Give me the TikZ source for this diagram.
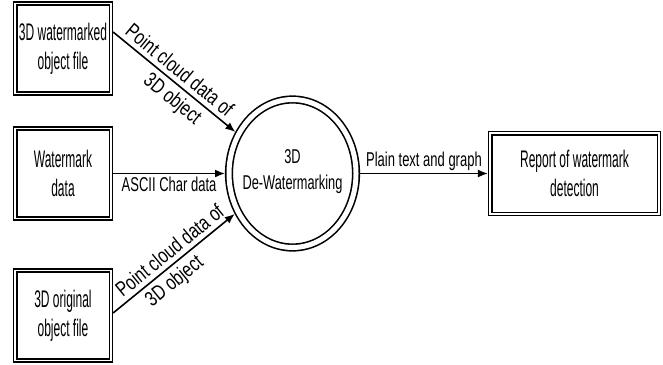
\documentclass[tikz,border=0pt]{standalone}
\usepackage{fontspec}
\setmainfont{Liberation Sans}
\newfontfamily\boxfont[FakeStretch=0.5]{Liberation Sans}
\newfontfamily\lblfont[FakeStretch=0.65]{Liberation Sans}
\newfontfamily\slfont[FakeStretch=0.76]{Liberation Sans}
\newfontfamily\circfont[FakeStretch=0.64]{Liberation Sans}
\usetikzlibrary{shapes.geometric,arrows.meta}
\begin{document}
\begin{tikzpicture}[x=1pt,y=-1pt,
  entity/.style={draw, double, double distance=1.8pt, line width=1.4pt,
    minimum width=95.6pt, minimum height=90pt, outer sep=2.3pt, inner sep=0pt,
    align=center, font=\boxfont\fontsize{24}{29}\selectfont},
  process/.style={ellipse, draw, double, double distance=5pt, line width=1.6pt,
    minimum width=127pt, minimum height=148pt, outer sep=4pt, inner sep=0pt},
  proctext/.style={align=center, inner sep=0pt, font=\circfont\fontsize{20}{26}\selectfont},
  flow/.style={line width=1.6pt, -{Latex[length=10pt,width=8pt]}},
  lbl/.style={font=\lblfont\fontsize{20}{24}\selectfont, align=center, inner sep=2.5pt},
  slbl/.style={font=\slfont\fontsize{21}{25}\selectfont, sloped, inner sep=4.5pt}]
\useasboundingbox (0,0) rectangle (663,364);

\node[entity] (b1) at (63,48.5) {3D watermarked\\object file};
\node[entity] (b2) at (63,173.5) {Watermark\\data};
\node[entity] (b3) at (63,315.5) {3D original\\object file};
\node[entity, minimum width=168.6pt, minimum height=80.6pt] (r) at (574.5,173.5) {Report of watermark\\detection};

\node[process] (c) at (292.5,173.5) {};
\node[proctext] (ct) at (292.5,172) {3D\\De-Watermarking};

\draw[flow] ([yshift=16.5pt]b1.east) -- node[pos=0.48, slbl, above] {Point cloud data of}
  node[pos=0.56, slbl, below] {3D object} (c.144.5);
\draw[flow] (b2.east) -- node[midway, below, lbl] {ASCII Char data} (c.west);
\draw[flow] ([yshift=2.5pt]b3.east) -- node[pos=0.53, slbl, above] {Point cloud data of}
  node[pos=0.43, slbl, below] {3D object} (c.215.5);
\draw[flow] (c.east) -- node[midway, above, lbl] {Plain text and graph} (r.west);
\end{tikzpicture}
\end{document}
